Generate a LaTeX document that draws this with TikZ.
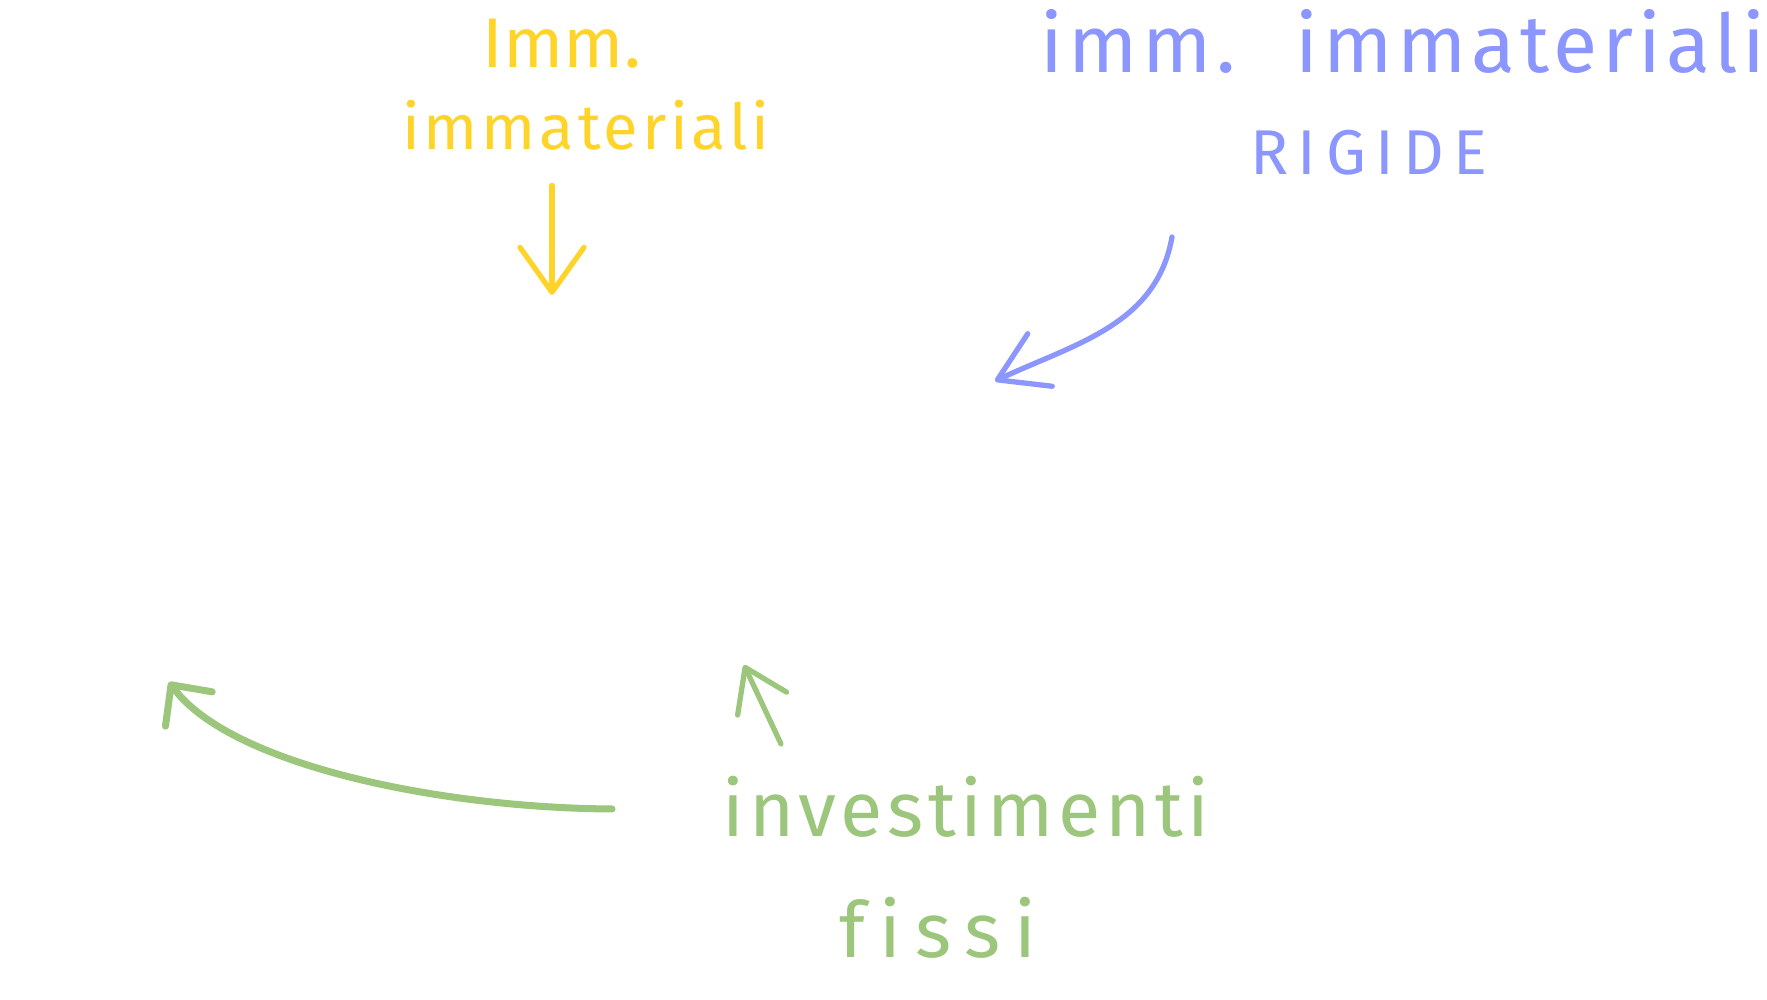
\documentclass[tikz,border=0pt]{standalone}
\usepackage{fontspec}
\setmainfont{Fira Sans}
\newfontfamily\handfont[LetterSpace=6, Ligatures=NoCommon]{Fira Sans}
\usetikzlibrary{arrows.meta}
\definecolor{penyellow}{HTML}{FFD42A}
\definecolor{penblue}{HTML}{8C96FF}
\definecolor{pengreen}{HTML}{9BC67B}

\begin{document}
\begin{tikzpicture}[
        hand/.style={anchor=base, inner sep=0pt, font=\handfont\fontsize{#1}{#1}\selectfont},
        hand/.default=22pt,
        pen/.style={line width=1.5pt, line cap=round, line join=round},
        barb/.style 2 args={-{Straight Barb[length=#1, width=#2, round]}}
    ]
        % Frame:
        \useasboundingbox (0, 0) rectangle (17.67, 10);
        % Labels:
        \node[hand=20pt, text=penyellow] (yl1) at (5.62, 9.32) {\addfontfeatures{LetterSpace=0}Imm.};
        \node[hand=18pt, text=penyellow] (yl2) at (5.86, 8.50) {immateriali};
        \node[hand=23pt, text=penblue] (bl1) at (14.03, 9.27) {imm.\hspace{0.6cm}immateriali};
        \node[hand=18pt, text=penblue] (bl2) at (13.69, 8.25) {\addfontfeatures{LetterSpace=15}RIGIDE};
        \node[hand, text=pengreen] (gl1) at (9.66, 1.63) {investimenti};
        \node[hand, text=pengreen] (gl2) at (9.38, 0.42) {\addfontfeatures{LetterSpace=18}fissi};
        % Arrow ends:
        \coordinate (ytip) at (5.52, 7.05);
        \coordinate (bstart) at (11.72, 7.63);
        \coordinate (btip) at (9.95, 6.19);
        \coordinate (gstart) at (6.12, 1.91);
        \coordinate (gtip) at (1.69, 3.18);
        \coordinate (hstart) at (7.81, 2.56);
        \coordinate (htip) at (7.44, 3.35);
        % Arrows:
        \draw[pen, penyellow, barb={4.5mm}{6.4mm}] (yl2.south -| ytip) ++(0, -0.34) -- (ytip);
        \draw[pen, penblue, barb={4.7mm}{5.8mm}] (bstart) to[out=-100, in=25] (btip);
        \draw[pen, pengreen, line width=2pt, barb={3mm}{5.8mm}] (gstart) .. controls (4.4, 1.92) and (2.3, 2.35) .. (gtip);
        \draw[pen, pengreen, barb={4mm}{5.4mm}] (hstart) -- (htip);
\end{tikzpicture}
\end{document}
